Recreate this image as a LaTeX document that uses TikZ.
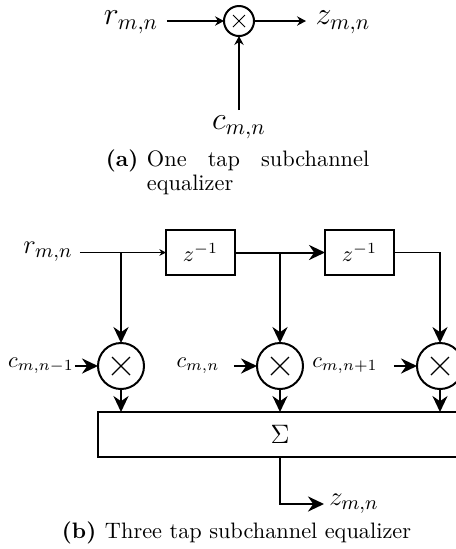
\documentclass[tikz,border=0pt]{standalone}
\usetikzlibrary{arrows.meta,calc}
\tikzset{
  x=0.45pt,y=-0.45pt,
  lbl/.style={inner sep=0pt,outer sep=0pt},
  multnode/.style={circle,draw,line width=0.9pt,minimum size=#1,inner sep=0pt,outer sep=0pt},
  crossa/.style={path picture={\draw[line width=0.35pt] ($(path picture bounding box.center)+(-6,-6)$) -- ($(path picture bounding box.center)+(6,6)$) ($(path picture bounding box.center)+(-6,6)$) -- ($(path picture bounding box.center)+(6,-6)$);}},
  crossb/.style={path picture={\draw[line width=0.5pt] ($(path picture bounding box.center)+(-9,-9)$) -- ($(path picture bounding box.center)+(9,9)$) ($(path picture bounding box.center)+(-9,9)$) -- ($(path picture bounding box.center)+(9,-9)$);}},
  delaybox/.style={draw,line width=0.9pt,minimum width=31.05pt,minimum height=20.25pt,inner sep=0pt,outer sep=0pt},
  sumbox/.style={draw,line width=0.9pt,minimum width=163.8pt,minimum height=20.25pt,inner sep=0pt,outer sep=0pt},
  smallarr/.style={line width=0.65pt,-{Stealth[length=4pt,width=4.2pt]}},
  thinarr/.style={line width=0.45pt,-{Stealth[length=3pt,width=3pt]}},
  bigarr/.style={line width=0.9pt,-{Stealth[length=7.2pt,width=6.8pt]}},
  thinwire/.style={line width=0.45pt},
  captext/.style={inner sep=0pt,outer sep=0pt,font=\fontsize{10.05}{11.4}\selectfont},
}
\begin{document}
\begin{tikzpicture}
\useasboundingbox (0,0) rectangle (456,549);
\clip (0,0) rectangle (456,549);
% (a)
\node[multnode=13.5pt,crossa] (ma) at (239,21) {};
\node[lbl] (ra) at (131,22) {\fontsize{14}{16}\selectfont $r_{m,n}$};
\node[lbl] (za) at (343,22) {\fontsize{14}{16}\selectfont $z_{m,n}$};
\node[lbl] (ca) at (239,127) {\fontsize{14}{16}\selectfont $c_{m,n}$};
\coordinate (rae) at (167,21);
\coordinate (zae) at (306,21);
\coordinate (cae) at (239,110);
\draw[smallarr] (rae) -- (ma);
\draw[smallarr] (ma) -- (zae);
\draw[smallarr] (cae) -- (ma);
\node[captext,anchor=base west] (capa) at (106,166) {\textbf{(a)}};
\node[captext,anchor=base west] (capa1) at (147,166) {\makebox[100pt][s]{One tap subchannel}};
\node[captext,anchor=base west] (capa2) at (147,190) {equalizer};
% (b)
\node[delaybox] (d1) at (200.5,252.5) {$z^{-1}$};
\node[delaybox] (d2) at (359.5,252.5) {$z^{-1}$};
\node[multnode=20.7pt,crossb] (m1) at (121,366) {};
\node[multnode=20.7pt,crossb] (m2) at (280,366) {};
\node[multnode=20.7pt,crossb] (m3) at (440,366) {};
\node[sumbox] (s) at (280,434.5) {\fontsize{12.5}{14}\selectfont $\Sigma$};
\node[lbl] (rb) at (48,252) {\fontsize{12.5}{14}\selectfont $r_{m,n}$};
\node[lbl] (c1) at (41,366) {\fontsize{9.6}{11}\selectfont $c_{m,n-1}$};
\node[lbl] (c2) at (198,366) {\fontsize{9.6}{11}\selectfont $c_{m,n}$};
\node[lbl] (c3) at (345,366) {\fontsize{9.6}{11}\selectfont $c_{m,n+1}$};
\node[lbl] (zb) at (354,504) {\fontsize{12.5}{14}\selectfont $z_{m,n}$};
\coordinate (rbe) at (80,252.5);
\coordinate (j1) at (121,252.5);
\coordinate (j2) at (280,252.5);
\coordinate (j3) at (440,252.5);
\coordinate (c1e) at (75,366);
\coordinate (c2e) at (234,366);
\coordinate (c3e) at (394,366);
\coordinate (zc) at (280,504);
\coordinate (ze) at (324,504);
\draw[thinwire] (rbe) -- (j1);
\draw[thinarr] (j1) -- (d1);
\draw[bigarr] (j1) -- (m1);
\draw[bigarr] (d1) -- (d2);
\draw[bigarr] (j2) -- (m2);
\draw[bigarr,line width=0.7pt] (d2) -- (j3) -- (m3);
\draw[bigarr] (c1e) -- (m1);
\draw[bigarr] (c2e) -- (m2);
\draw[bigarr] (c3e) -- (m3);
\draw[bigarr] (m1) -- (m1|-s.north);
\draw[bigarr] (m2) -- (m2|-s.north);
\draw[bigarr] (m3) -- (m3|-s.north);
\draw[bigarr] (s.south) -- (zc) -- (ze);
\node[captext,anchor=base west] (capb) at (62,538) {\textbf{(b)}};
\node[captext,anchor=base west] (capb1) at (105,538) {Three tap subchannel equalizer};
\end{tikzpicture}
\end{document}
